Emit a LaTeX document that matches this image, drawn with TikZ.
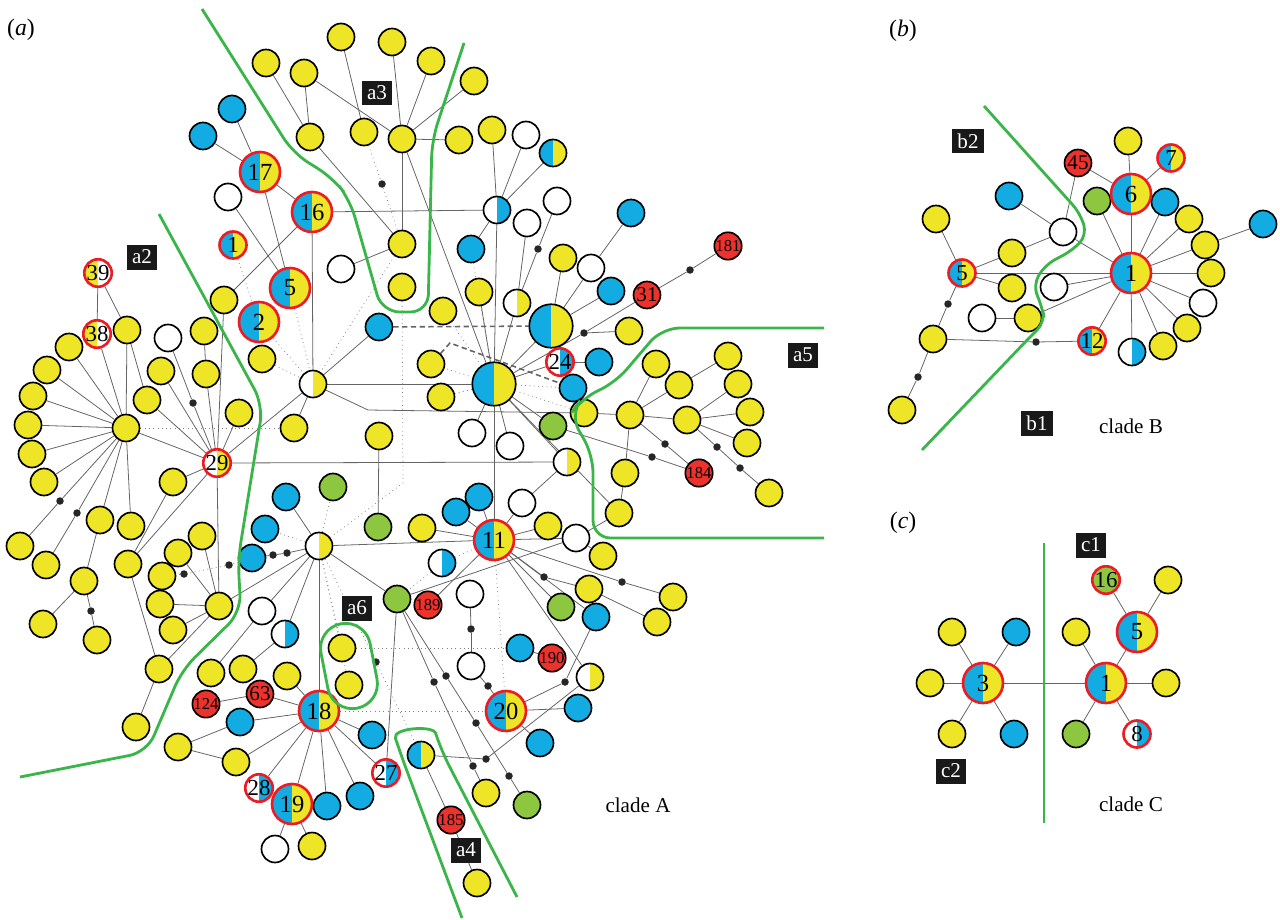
\documentclass[tikz,border=0pt]{standalone}
\usepackage{fontspec}
\setmainfont{Liberation Serif}
\usetikzlibrary{backgrounds}

\definecolor{hapY}{RGB}{237,229,38}
\definecolor{hapB}{RGB}{18,172,226}
\definecolor{hapR}{RGB}{236,50,45}
\definecolor{hapG}{RGB}{141,198,63}
\definecolor{rimR}{RGB}{237,28,36}
\definecolor{cutG}{RGB}{57,181,74}
\definecolor{lnkC}{RGB}{100,100,100}

\tikzset{
  hap/.style={circle, draw=black, line width=0.95pt, minimum size=0.54cm, inner sep=0pt, font=\fontsize{13}{13}\selectfont},
  hy/.style={hap, fill=hapY},
  hb/.style={hap, fill=hapB},
  hw/.style={hap, fill=white},
  hg/.style={hap, fill=hapG},
  hr/.style={hap, fill=hapR, font=\fontsize{9.5}{9.5}\selectfont},
  two/.style 2 args={hap, fill=#2, path picture={\fill[fill=#1] (path picture bounding box.south west) rectangle (path picture bounding box.north);}},
  big/.style={minimum size=0.8cm, font=\fontsize{14}{14}\selectfont},
  rim/.style={draw=rimR, line width=1.5pt},
  mv/.style={circle, fill=black!85, minimum size=0.15cm, inner sep=0pt},
  lnk/.style={draw=lnkC, line width=0.45pt},
  alt/.style={draw=lnkC!80, line width=0.45pt, dotted},
  dsh/.style={draw=lnkC, line width=0.9pt, dash pattern=on 3pt off 2pt},
  cut/.style={draw=cutG, line width=1.6pt, rounded corners=10pt},
  tag/.style={fill=black!90, text=white, minimum height=0.5cm, inner xsep=3pt, inner ysep=0pt, font=\fontsize{12}{12}\selectfont},
  clade/.style={font=\fontsize{12}{12}\selectfont},
  panel/.style={font=\fontsize{13.5}{13.5}\selectfont},
}

\begin{document}
\begin{tikzpicture}[x=0.02cm, y=-0.02cm]
\path[use as bounding box] (0,0) rectangle (1280,919);

% ---------------- panel (a): clade A ----------------
\node[panel] (pa) at (21,30) {(\textit{a})};
% yellow haplotypes
\foreach \n/\x/\y in {t1/341/37, t2/392/42, t3/431/61, t4/474/81, t5/266/63, t6/304/73, t7/310/137,
  t8/364/132, h3/402/139, t9/459/140, t10/492/130, t16/563/258, t20/402/244, t22/402/287,
  t23/479/292, t25/443/311, t26/629/331, t29/431/364, t30/441/397, c4/224/300, c5/262/359,
  c6/294/428, c7/379/436, l1/127/330, l2/69/347, l3/47/370, l4/33/396, l5/28/425, l6/32/454,
  l7/44/482, h2/126/428, l9/204/331, l10/161/371, l11/206/374, l12/147/400, l13/239/413,
  l14/173/482, l15/100/520, l16/131/526, l17/20/546, l18/46/565, l19/84/581, l20/43/624,
  l21/97/640, l22/128/564, l23/159/669, l24/136/727, h4/219/606, m1/202/536, m2/178/553,
  m3/162/576, m4/160/604, m5/173/630, m13/211/673, m14/243/669, m15/287/676, m17/178/747,
  m18/236/762, p1/342/648, p2/349/685, m23/312/846, q1/422/528, q5/548/526, q7/603/556,
  q13/589/589, q15/673/597, q16/657/622, q21/486/793, q23/477/883, r4/584/413, r5/630/415,
  r6/656/364, r7/679/385, r8/728/356, r9/738/384, r10/687/420, r11/750/412, r12/747/443,
  r13/769/493, r14/625/473, r15/619/513}
  \node[hy] (\n) at (\x,\y) {};
% blue haplotypes
\foreach \n/\x/\y in {t15/471/249, t18/631/213, t19/611/291, bl1/379/327, t27/599/362, t28/573/388,
  c1/232/109, c2/203/136, m6/252/558, m7/265/529, m8/286/497, m16/240/722, m19/372/735,
  m20/327/806, m21/360/796, q2/456/512, q3/479/497, q11/520/648, q14/596/617, q18/578/708, q19/540/743}
  \node[hb] (\n) at (\x,\y) {};
% white haplotypes
\foreach \n/\x/\y in {t11/526/135, t13/557/201, t14/527/223, t17/591/268, t21/341/269, c3/228/197,
  l8/168/338, m11/262/611, m22/275/849, q4/522/503, q6/576/538, q9/470/594, q10/471/666,
  r1/472/433, r2/510/446}
  \node[hw] (\n) at (\x,\y) {};
% green haplotypes
\foreach \n/\x/\y in {m9/333/487, m10/378/527, g1/397/599, q12/561/607, q22/527/805, r3/553/426}
  \node[hg] (\n) at (\x,\y) {};
% red haplotypes
\foreach \n/\x/\y/\txt in {n31/647/295/31, n63/260/694/63}
  \node[hr, font=\fontsize{12}{12}\selectfont] (\n) at (\x,\y) {\txt};
\foreach \n/\x/\y/\txt in {n181/728/246/181, n184/699/473/184, n189/428/605/189, n190/552/658/190,
  n124/206/704/124, n185/451/820/185}
  \node[hr] (\n) at (\x,\y) {\txt};
% shared haplotypes
\foreach \n/\x/\y/\ca/\cb in {t12/553/153/hapB/hapY, hWB/497/210/white/hapB, t24/517/303/white/hapY,
  hW/313/384/white/hapY, hX/319/546/white/hapY, m12/285/634/white/hapB, q8/442/563/white/hapB,
  q17/590/677/white/hapY, q20/421/755/hapB/hapY, r16/567/462/white/hapY}
  \node[two={\ca}{\cb}] (\n) at (\x,\y) {};
\node[two={hapB}{hapY}, minimum size=0.87cm] (hB2) at (551,326) {};
\node[two={hapB}{hapY}, minimum size=0.87cm] (hM) at (494,384) {};
\foreach \n/\x/\y/\txt in {b17/260/172/17, b16/312/212/16, b5/290/288/5, b2/259/322/2,
  h18/319/711/18, b19/292/804/19, h11/494/540/11, b20/506/711/20}
  \node[two={hapB}{hapY}, big, rim] (\n) at (\x,\y) {\txt};
\foreach \n/\x/\y/\ca/\cb/\txt in {n1/233/245/hapB/hapY/1, n39/98/273/hapY/white/39,
  n38/97/334/hapY/white/38, n29/217/463/white/hapY/29, n24/560/362/white/hapB/24,
  n27/386/773/white/hapB/27, n28/259/788/white/hapB/28}
  \node[two={\ca}{\cb}, rim] (\n) at (\x,\y) {\txt};
% median vectors
\foreach \n/\x/\y in {d1/690/270, d2/538/249, d3/382/184, d4/584/333, d5/193/403, d6/60/501,
  d7/77/513, d8/91/611, d9/184/574, d10/229/565, d11/273/555, d12/287/553, d13/376/662,
  d14/471/629, d15/488/686, d16/544/577, d17/622/582, d18/565/682, d19/486/759, d20/434/682,
  d21/446/676, d22/476/723, d23/473/766, d24/509/776, d25/717/447, d26/740/468, d27/665/444,
  d28/652/457}
  \node[mv] (\n) at (\x,\y) {};

% ---------------- panel (b): clade B ----------------
\node[panel] (pb) at (903,31) {(\textit{b})};
\foreach \n/\x/\y in {e1/1128/141, e5/936/219, e6/1189/219, e7/1205/245, e10/1012/253, e11/1211/273,
  e12/1012/288, e16/1028/318, e17/1187/328, e18/933/339, e20/1163/346, e21/902/410}
  \node[hy] (\n) at (\x,\y) {};
\foreach \n/\x/\y in {e3/1165/202, e4/1009/196, e8/1263/224}
  \node[hb] (\n) at (\x,\y) {};
\foreach \n/\x/\y in {e9/1063/232, e13/1054/287, e14/1203/303, e15/982/318}
  \node[hw] (\n) at (\x,\y) {};
\node[hg] (e2) at (1097,201) {};
\node[hr, font=\fontsize{12}{12}\selectfont] (bn45) at (1078,163) {45};
\node[two={white}{hapB}] (e19) at (1132,352) {};
\node[two={hapB}{hapY}, big, rim] (bb1) at (1131,273) {1};
\node[two={hapB}{hapY}, big, rim] (bb6) at (1131,194) {6};
\foreach \n/\x/\y/\txt in {bn7/1171/158/7, bn5/962/273/5, bn12/1092/341/12}
  \node[two={hapB}{hapY}, rim] (\n) at (\x,\y) {\txt};
\foreach \n/\x/\y in {bd1/948/304, bd2/1036/342, bd3/918/377}
  \node[mv] (\n) at (\x,\y) {};

% ---------------- panel (c): clade C ----------------
\node[panel] (pc) at (903,523) {(\textit{c})};
\foreach \n/\x/\y in {f1/1168/580, f2/952/632, f4/1076/632, f5/930/683, f6/1166/683, f7/952/734}
  \node[hy] (\n) at (\x,\y) {};
\node[hb] (f3) at (1016,632) {};
\node[hb] (f8) at (1014,734) {};
\node[hg] (f9) at (1076,734) {};
\node[hg, rim] (cn16) at (1106,580) {16};
\node[two={white}{hapB}, rim] (cn8) at (1137,734) {8};
\foreach \n/\x/\y/\txt in {cc3/983/683/3, cc1/1106/683/1, cc5/1137/632/5}
  \node[two={hapB}{hapY}, big, rim] (\n) at (\x,\y) {\txt};

% ---------------- links ----------------
\begin{scope}[on background layer]
  \foreach \a/\b in {h3/t2, h3/t3, h3/t4, h3/t6, h3/t9, h3/t20, h3/hM, t7/t6, t7/t5, t7/t20, t1/t8,
    t20/t21, hWB/t10, hWB/t11, hWB/t12, hWB/t15, hWB/b16, hWB/hM, t24/t14, t24/d2, d2/t13,
    t24/hM, t23/hM, hB2/t16, hB2/t17, hB2/t19, t17/t18, hB2/hM, hM/d4, d4/n31, d4/t26,
    n31/d1, d1/n181, hM/n24, n24/t27, b17/c1, b17/c2, b17/b16, b17/b5, c3/b5, b16/c4, b16/hW,
    bl1/hW, hW/hM, hW/c6, hW/n29, c7/m10,
    n39/n38, n39/l1, l1/h2, n38/h2, h2/l2, h2/l3, h2/l4, h2/l5, h2/l6, h2/l7, h2/d6, d6/l17,
    h2/d7, d7/l18, h2/l15, l15/l19, l19/l20, l19/d8, d8/l21, h2/l16, h2/n29, l1/l12,
    n29/l12, n29/l10, n29/d5, d5/l8, n29/l11, l9/l11, n29/c4, n29/l13, n29/l14, l14/l22,
    n29/l22, l22/l23, l23/l24, n29/h4, n29/r16,
    h4/m1, h4/m2, h4/m4, h4/m5, h4/l23, h4/hX, hX/m8, hX/d12, d12/d11, d11/m6, hX/g1,
    hX/h18, hX/h11, hX/m11, hX/m12, m11/m13, m12/m14,
    h18/n63, n63/n124, h18/m16, m16/m17, m17/m18, m18/h18, h18/m15, h18/m19, h18/n27,
    h18/m21, h18/m20, h18/b19, h18/n28, b19/m22, b19/m23,
    g1/n27, g1/d20, d20/d23, d23/q21, g1/d21, d21/d22, d22/d24, d24/q22, g1/q6,
    h11/n189, h11/q1, h11/q2, h11/q3, h11/q4, h11/q5, h11/q6, h11/hM, q6/q7, q6/r15, q4/r16,
    h11/d16, d16/q13, q13/q16, h11/d17, d17/q15, h11/q12, h11/q14, h11/q17,
    q14/d18, d18/b20, b20/q18, b20/q19, b20/d15, d15/q10, q10/d14, d14/q9, q11/n190,
    q17/d19, d19/q20, q20/n185, n185/q23,
    hM/r1, hM/r2, hM/r3, hM/r16, hM/r15, r3/d28, d28/n184,
    r4/r5, r5/r6, r5/r7, r5/r10, r5/r14, r5/d27, d27/n184, r7/r8, r10/r9, r10/r11, r10/r12,
    r10/d25, d25/d26, d26/r13, r14/r15,
    bb1/bb6, bb6/e1, bb6/bn7, bb6/bn45, bn45/e9, bb1/e2, bb1/e3, bb1/e6, bb1/e7, bb1/e11,
    bb1/e14, bb1/e17, bb1/e20, bb1/e19, bb1/bn12, bb1/e9, bb1/bn5, bb1/e13, bb1/e16, e9/e4,
    e9/e10, e10/bn5, bn5/e5, bn5/e12, bn5/bd1, bd1/e18, e18/bd3, bd3/e21, e15/e16, e18/bd2,
    bd2/bn12, e7/e8,
    cc3/f2, cc3/f3, cc3/f5, cc3/f7, cc3/f8, cc3/cc1, cc1/f4, cc1/cc5, cc1/f6, cc1/f9,
    cc1/cn8, cc5/cn16, cc5/f1}
    \draw[lnk] (\a) -- (\b);
  % alternative links
  \foreach \a/\b in {t8/d3, d3/t20, n1/b2, b2/hW, b5/hW, c5/hW, t20/hW, h2/c6, hM/t29, hM/t30,
    hM/t25, hM/t15, hM/t28, hX/m7, hX/m9, hX/p1, hX/p2, hX/d13, d13/q20, m6/d10, d10/d9,
    d9/m3, q8/h11, q8/g1, h11/b20, p1/q11, h18/b20, hM/r4}
    \draw[alt] (\a) -- (\b);
  \draw[lnk] (hW) -- (368,410) -- (r4);
  \draw[alt] (hX) -- (403,483) -- (t22);
  \draw[dsh] (bl1) -- (hB2);
  \draw[dsh] (t29) -- (450,343) -- (t28);
\end{scope}

% ---------------- subclade borders ----------------
\draw[cut] (202,9) -- (293,153) -- (333,178) -- (350,200) -- (382,312) -- (428,312) -- (432,140) -- (464,43);
\draw[cut] (159,214) -- (263,405) -- (238,560) -- (241,612) -- (182,670) -- (147,752) -- (20,777);
\draw[cut] (824,328) -- (662,328) -- (615,383) -- (582,398) -- (570,415) -- (593,455) -- (593,538) -- (824,538);
\draw[cut, rounded corners=0.5cm, rotate around={11:(349,666)}] (324,623) rectangle (374,709);
\draw[cut] (462,918) -- (401,755) .. controls (392,728) and (433,725) .. (441,750) -- (517,897);
\draw[cut, rounded corners=6pt] (984,106) -- (1080,213) -- (1087,235) -- (1073,250) -- (1045,265)
  -- (1033,285) -- (1042,307) -- (1045,322) -- (1030,337) -- (922,450);
\draw[cut] (1044,543) -- (1044,823);

% subclade tags
\foreach \n/\x/\y/\txt in {ta2/142/257/a2, ta3/377/93/a3, ta4/466/850/a4, ta5/803/355/a5,
  ta6/357/608/a6, tb1/1037/423/b1, tb2/968/141/b2, tc1/1091/545/c1, tc2/951/771/c2}
  \node[tag] (\n) at (\x,\y) {\txt};
\node[clade] (cA) at (638,805) {clade A};
\node[clade] (cB) at (1131,426) {clade B};
\node[clade] (cC) at (1131,804) {clade C};
\end{tikzpicture}
\end{document}
